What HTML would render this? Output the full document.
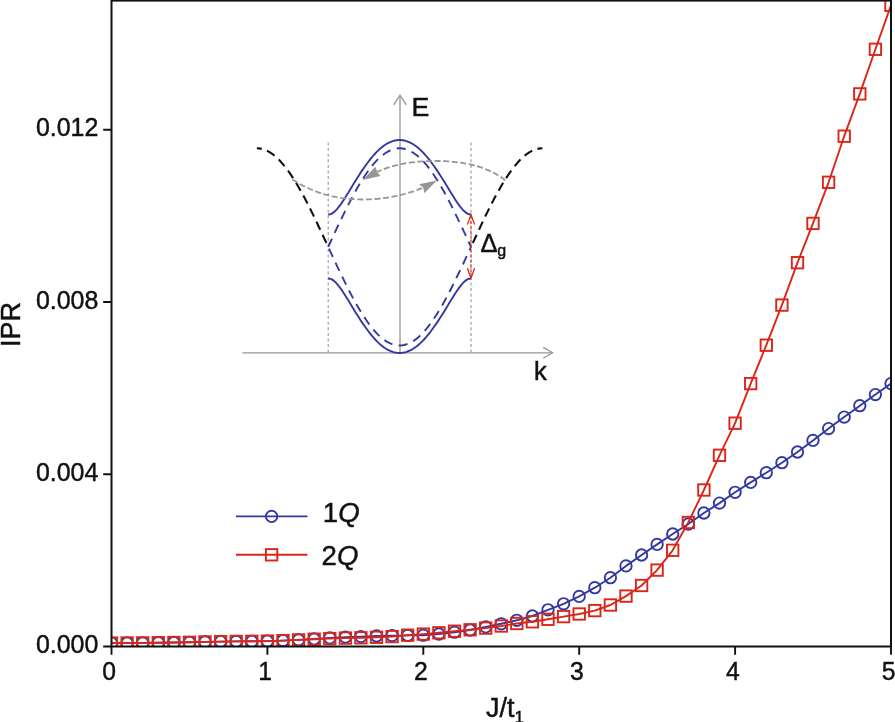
<!DOCTYPE html>
<html lang="en"><head><meta charset="utf-8"><title>IPR vs J/t1</title>
<style>
html,body{margin:0;padding:0;background:#fff;}
body{width:895px;height:722px;overflow:hidden;}
svg{display:block;}
text{font-family:"Liberation Sans",Arial,Helvetica,sans-serif;fill:#111;stroke:#111;stroke-width:0.45px;}
</style></head><body>
<svg width="895" height="722" viewBox="0 0 895 722">
<rect width="895" height="722" fill="#fff"/>
<defs><clipPath id="plot"><rect x="111.5" y="0.6" width="779.5" height="645.9"/></clipPath></defs>
<g fill="none" stroke-linecap="butt">
<path d="M242.4 352.8H552" stroke="#969696" stroke-width="1.3"/>
<path d="M543.2 347.4L552.6 352.8L543.2 358.2" stroke="#969696" stroke-width="1.3"/>
<path d="M400 353V96" stroke="#969696" stroke-width="1.3"/>
<path d="M393.8 104.8L400 95.2L406.2 104.8" stroke="#969696" stroke-width="1.3"/>
<path d="M328.2 142.5V352.5M471.0 142.5V352.5" stroke="#999" stroke-width="1.1" stroke-dasharray="3 2.6"/>
<polyline points="256.8,148.3 258.6,148.4 260.5,148.6 262.3,149.0 264.1,149.6 266.0,150.3 267.8,151.2 269.6,152.2 271.4,153.4 273.3,154.7 275.1,156.2 276.9,157.8 278.8,159.6 280.6,161.5 282.4,163.6 284.3,165.8 286.1,168.1 287.9,170.5 289.8,173.1 291.6,175.8 293.4,178.6 295.2,181.5 297.1,184.5 298.9,187.7 300.7,190.9 302.6,194.2 304.4,197.6 306.2,201.1 308.1,204.6 309.9,208.3 311.7,211.9 313.6,215.7 315.4,219.5 317.2,223.3 319.0,227.2 320.9,231.1 322.7,235.0 324.5,239.0 326.4,242.9 328.2,246.9" stroke="#111" stroke-width="2.1" stroke-dasharray="9 5.6" stroke-dashoffset="4"/>
<polyline points="542.4,148.3 540.6,148.4 538.7,148.6 536.9,149.0 535.1,149.6 533.2,150.3 531.4,151.2 529.6,152.2 527.8,153.4 525.9,154.7 524.1,156.2 522.3,157.8 520.4,159.6 518.6,161.5 516.8,163.6 514.9,165.8 513.1,168.1 511.3,170.5 509.4,173.1 507.6,175.8 505.8,178.6 504.0,181.5 502.1,184.5 500.3,187.7 498.5,190.9 496.6,194.2 494.8,197.6 493.0,201.1 491.1,204.6 489.3,208.3 487.5,211.9 485.6,215.7 483.8,219.5 482.0,223.3 480.2,227.2 478.3,231.1 476.5,235.0 474.7,239.0 472.8,242.9 471.0,246.9" stroke="#111" stroke-width="2.1" stroke-dasharray="9 5.6" stroke-dashoffset="4"/>
<polyline points="328.2,246.9 330.0,250.8 331.8,254.7 333.6,258.6 335.4,262.5 337.2,266.4 339.0,270.2 340.9,274.0 342.7,277.7 344.5,281.4 346.3,285.1 348.1,288.7 349.9,292.2 351.7,295.6 353.5,299.0 355.3,302.3 357.1,305.5 358.9,308.6 360.7,311.6 362.5,314.5 364.4,317.3 366.2,320.0 368.0,322.6 369.8,325.0 371.6,327.4 373.4,329.6 375.2,331.6 377.0,333.6 378.8,335.4 380.6,337.0 382.4,338.5 384.2,339.9 386.0,341.1 387.9,342.2 389.7,343.2 391.5,343.9 393.3,344.5 395.1,345.0 396.9,345.3 398.7,345.5 400.5,345.5 402.3,345.3 404.1,345.0 405.9,344.5 407.7,343.9 409.5,343.2 411.3,342.2 413.2,341.1 415.0,339.9 416.8,338.5 418.6,337.0 420.4,335.4 422.2,333.6 424.0,331.6 425.8,329.6 427.6,327.4 429.4,325.0 431.2,322.6 433.0,320.0 434.8,317.3 436.7,314.5 438.5,311.6 440.3,308.6 442.1,305.5 443.9,302.3 445.7,299.0 447.5,295.6 449.3,292.2 451.1,288.7 452.9,285.1 454.7,281.4 456.5,277.7 458.3,274.0 460.2,270.2 462.0,266.4 463.8,262.5 465.6,258.6 467.4,254.7 469.2,250.8 471.0,246.9" stroke="#3438a1" stroke-width="1.9" stroke-dasharray="9 6.4" stroke-dashoffset="13.4"/>
<polyline points="328.2,246.9 330.0,243.0 331.8,239.1 333.6,235.2 335.4,231.3 337.2,227.4 339.0,223.6 340.9,219.8 342.7,216.1 344.5,212.4 346.3,208.7 348.1,205.1 349.9,201.6 351.7,198.2 353.5,194.8 355.3,191.5 357.1,188.3 358.9,185.2 360.7,182.2 362.5,179.3 364.4,176.5 366.2,173.8 368.0,171.2 369.8,168.8 371.6,166.4 373.4,164.2 375.2,162.2 377.0,160.2 378.8,158.4 380.6,156.8 382.4,155.3 384.2,153.9 386.0,152.7 387.9,151.6 389.7,150.6 391.5,149.9 393.3,149.3 395.1,148.8 396.9,148.5 398.7,148.3 400.5,148.3 402.3,148.5 404.1,148.8 405.9,149.3 407.7,149.9 409.5,150.6 411.3,151.6 413.2,152.7 415.0,153.9 416.8,155.3 418.6,156.8 420.4,158.4 422.2,160.2 424.0,162.2 425.8,164.2 427.6,166.4 429.4,168.8 431.2,171.2 433.0,173.8 434.8,176.5 436.7,179.3 438.5,182.2 440.3,185.2 442.1,188.3 443.9,191.5 445.7,194.8 447.5,198.2 449.3,201.6 451.1,205.1 452.9,208.7 454.7,212.4 456.5,216.1 458.3,219.8 460.2,223.6 462.0,227.4 463.8,231.3 465.6,235.2 467.4,239.1 469.2,243.0 471.0,246.9" stroke="#3438a1" stroke-width="1.9" stroke-dasharray="9 6.4"/>
<polyline points="328.2,214.6 330.0,214.3 331.8,213.6 333.6,212.4 335.4,210.8 337.2,208.8 339.0,206.6 340.9,204.1 342.7,201.5 344.5,198.7 346.3,195.8 348.1,192.9 349.9,190.0 351.7,187.0 353.5,184.1 355.3,181.1 357.1,178.2 358.9,175.4 360.7,172.6 362.5,169.9 364.4,167.2 366.2,164.7 368.0,162.3 369.8,159.9 371.6,157.7 373.4,155.5 375.2,153.5 377.0,151.7 378.8,149.9 380.6,148.3 382.4,146.8 384.2,145.5 386.0,144.3 387.9,143.2 389.7,142.3 391.5,141.6 393.3,140.9 395.1,140.5 396.9,140.2 398.7,140.0 400.5,140.0 402.3,140.2 404.1,140.5 405.9,140.9 407.7,141.6 409.5,142.3 411.3,143.2 413.2,144.3 415.0,145.5 416.8,146.8 418.6,148.3 420.4,149.9 422.2,151.7 424.0,153.5 425.8,155.5 427.6,157.7 429.4,159.9 431.2,162.3 433.0,164.7 434.8,167.2 436.7,169.9 438.5,172.6 440.3,175.4 442.1,178.2 443.9,181.1 445.7,184.1 447.5,187.0 449.3,190.0 451.1,192.9 452.9,195.8 454.7,198.7 456.5,201.5 458.3,204.1 460.2,206.6 462.0,208.8 463.8,210.8 465.6,212.4 467.4,213.6 469.2,214.3 471.0,214.6" stroke="#3438a1" stroke-width="1.9"/>
<polyline points="328.2,278.4 330.0,278.7 331.8,279.4 333.6,280.6 335.4,282.2 337.2,284.2 339.0,286.4 340.9,288.9 342.7,291.5 344.5,294.3 346.3,297.2 348.1,300.1 349.9,303.0 351.7,306.0 353.5,308.9 355.3,311.9 357.1,314.8 358.9,317.6 360.7,320.4 362.5,323.1 364.4,325.8 366.2,328.3 368.0,330.7 369.8,333.1 371.6,335.3 373.4,337.5 375.2,339.5 377.0,341.3 378.8,343.1 380.6,344.7 382.4,346.2 384.2,347.5 386.0,348.7 387.9,349.8 389.7,350.7 391.5,351.4 393.3,352.1 395.1,352.5 396.9,352.8 398.7,353.0 400.5,353.0 402.3,352.8 404.1,352.5 405.9,352.1 407.7,351.4 409.5,350.7 411.3,349.8 413.2,348.7 415.0,347.5 416.8,346.2 418.6,344.7 420.4,343.1 422.2,341.3 424.0,339.5 425.8,337.5 427.6,335.3 429.4,333.1 431.2,330.7 433.0,328.3 434.8,325.8 436.7,323.1 438.5,320.4 440.3,317.6 442.1,314.8 443.9,311.9 445.7,308.9 447.5,306.0 449.3,303.0 451.1,300.1 452.9,297.2 454.7,294.3 456.5,291.5 458.3,288.9 460.2,286.4 462.0,284.2 463.8,282.2 465.6,280.6 467.4,279.4 469.2,278.7 471.0,278.4" stroke="#3438a1" stroke-width="1.9"/>
<polyline points="292.4,179.4 295.1,181.1 297.7,182.7 300.4,184.3 303.1,185.7 305.8,187.0 308.4,188.3 311.1,189.5 313.8,190.6 316.4,191.6 319.1,192.6 321.8,193.4 324.5,194.3 327.1,195.0 329.8,195.7 332.5,196.3 335.1,196.8 337.8,197.3 340.5,197.8 343.2,198.2 345.8,198.5 348.5,198.8 351.2,199.0 353.8,199.2 356.5,199.3 359.2,199.4 361.9,199.5 364.5,199.5 367.2,199.4 369.9,199.3 372.5,199.2 375.2,199.0 377.9,198.8 380.6,198.5 383.2,198.2 385.9,197.8 388.6,197.4 391.2,196.9 393.9,196.4 396.6,195.9 399.3,195.3 401.9,194.7 404.6,194.0 407.3,193.2 409.9,192.4 412.6,191.6 415.3,190.7 418.0,189.7 420.6,188.7 423.3,187.6" stroke="#969696" stroke-width="1.8" stroke-dasharray="6 2.6"/>
<polyline points="505.4,180.3 502.8,178.4 500.2,176.6 497.6,175.0 495.0,173.5 492.3,172.2 489.7,170.9 487.1,169.8 484.5,168.7 481.9,167.7 479.3,166.9 476.7,166.1 474.1,165.4 471.4,164.7 468.8,164.1 466.2,163.6 463.6,163.2 461.0,162.7 458.4,162.4 455.8,162.1 453.2,161.8 450.5,161.6 447.9,161.4 445.3,161.2 442.7,161.1 440.1,161.0 437.5,161.0 434.9,161.0 432.3,161.0 429.6,161.1 427.0,161.2 424.4,161.3 421.8,161.4 419.2,161.6 416.6,161.8 414.0,162.1 411.4,162.4 408.7,162.8 406.1,163.2 403.5,163.6 400.9,164.2 398.3,164.7 395.7,165.4 393.1,166.0 390.5,166.8 387.8,167.7 385.2,168.6 382.6,169.6 380.0,170.7 377.4,171.9" stroke="#969696" stroke-width="1.8" stroke-dasharray="6 2.6"/>
</g>
<path d="M436.8 180.5L419.2 184.3L423.1 187.3L424.4 193.2Z" fill="#969696"/>
<path d="M362.6 179.9L375.4 166.7L377.4 172.3L380.4 176.1Z" fill="#969696"/>
<g fill="none" stroke="#da2518">
<path d="M471.0 216V277" stroke-width="1" stroke-dasharray="3.2 1.6"/>
<path d="M467.4 224.6L471.0 214.6L474.6 224.6" stroke-width="1.3"/>
<path d="M467.4 268.2L471.0 278.2L474.6 268.2" stroke-width="1.3"/>
</g>
<text x="411.6" y="115.5" font-size="26.7">E</text>
<text x="533.9" y="380.2" font-size="25.5">k</text>
<text x="480.6" y="251.7" font-size="25.5">Δ</text>
<text x="497.2" y="256.4" font-size="16">g</text>
<g clip-path="url(#plot)" fill="none">
<polyline points="111.5,643.1 127.1,643.0 142.7,642.9 158.3,642.7 173.9,642.5 189.4,642.3 205.0,641.9 220.6,641.6 236.2,641.4 251.8,641.3 267.4,641.1 283.0,640.6 298.6,639.9 314.2,639.0 329.8,637.9 345.4,637.1 360.9,636.6 376.5,636.0 392.1,635.6 407.7,635.4 423.3,635.2 438.9,634.0 454.5,632.2 470.1,630.0 485.7,626.9 501.2,623.8 516.8,620.3 532.4,616.0 548.0,609.8 563.6,603.8 579.2,596.4 594.8,587.7 610.4,577.7 626.0,565.9 641.6,555.0 657.1,544.4 672.7,534.0 688.3,524.0 703.9,513.0 719.5,503.1 735.1,492.3 750.7,482.4 766.3,472.7 781.9,462.7 797.5,452.0 813.0,440.4 828.6,428.6 844.2,417.1 859.8,405.7 875.4,394.6 891.0,383.6" stroke="#3438a1" stroke-width="1.9" stroke-linejoin="round"/>
<circle cx="111.5" cy="643.1" r="5.7" stroke="#3438a1" stroke-width="1.9"/>
<circle cx="127.1" cy="643.0" r="5.7" stroke="#3438a1" stroke-width="1.9"/>
<circle cx="142.7" cy="642.9" r="5.7" stroke="#3438a1" stroke-width="1.9"/>
<circle cx="158.3" cy="642.7" r="5.7" stroke="#3438a1" stroke-width="1.9"/>
<circle cx="173.9" cy="642.5" r="5.7" stroke="#3438a1" stroke-width="1.9"/>
<circle cx="189.4" cy="642.3" r="5.7" stroke="#3438a1" stroke-width="1.9"/>
<circle cx="205.0" cy="641.9" r="5.7" stroke="#3438a1" stroke-width="1.9"/>
<circle cx="220.6" cy="641.6" r="5.7" stroke="#3438a1" stroke-width="1.9"/>
<circle cx="236.2" cy="641.4" r="5.7" stroke="#3438a1" stroke-width="1.9"/>
<circle cx="251.8" cy="641.3" r="5.7" stroke="#3438a1" stroke-width="1.9"/>
<circle cx="267.4" cy="641.1" r="5.7" stroke="#3438a1" stroke-width="1.9"/>
<circle cx="283.0" cy="640.6" r="5.7" stroke="#3438a1" stroke-width="1.9"/>
<circle cx="298.6" cy="639.9" r="5.7" stroke="#3438a1" stroke-width="1.9"/>
<circle cx="314.2" cy="639.0" r="5.7" stroke="#3438a1" stroke-width="1.9"/>
<circle cx="329.8" cy="637.9" r="5.7" stroke="#3438a1" stroke-width="1.9"/>
<circle cx="345.4" cy="637.1" r="5.7" stroke="#3438a1" stroke-width="1.9"/>
<circle cx="360.9" cy="636.6" r="5.7" stroke="#3438a1" stroke-width="1.9"/>
<circle cx="376.5" cy="636.0" r="5.7" stroke="#3438a1" stroke-width="1.9"/>
<circle cx="392.1" cy="635.6" r="5.7" stroke="#3438a1" stroke-width="1.9"/>
<circle cx="407.7" cy="635.4" r="5.7" stroke="#3438a1" stroke-width="1.9"/>
<circle cx="423.3" cy="635.2" r="5.7" stroke="#3438a1" stroke-width="1.9"/>
<circle cx="438.9" cy="634.0" r="5.7" stroke="#3438a1" stroke-width="1.9"/>
<circle cx="454.5" cy="632.2" r="5.7" stroke="#3438a1" stroke-width="1.9"/>
<circle cx="470.1" cy="630.0" r="5.7" stroke="#3438a1" stroke-width="1.9"/>
<circle cx="485.7" cy="626.9" r="5.7" stroke="#3438a1" stroke-width="1.9"/>
<circle cx="501.2" cy="623.8" r="5.7" stroke="#3438a1" stroke-width="1.9"/>
<circle cx="516.8" cy="620.3" r="5.7" stroke="#3438a1" stroke-width="1.9"/>
<circle cx="532.4" cy="616.0" r="5.7" stroke="#3438a1" stroke-width="1.9"/>
<circle cx="548.0" cy="609.8" r="5.7" stroke="#3438a1" stroke-width="1.9"/>
<circle cx="563.6" cy="603.8" r="5.7" stroke="#3438a1" stroke-width="1.9"/>
<circle cx="579.2" cy="596.4" r="5.7" stroke="#3438a1" stroke-width="1.9"/>
<circle cx="594.8" cy="587.7" r="5.7" stroke="#3438a1" stroke-width="1.9"/>
<circle cx="610.4" cy="577.7" r="5.7" stroke="#3438a1" stroke-width="1.9"/>
<circle cx="626.0" cy="565.9" r="5.7" stroke="#3438a1" stroke-width="1.9"/>
<circle cx="641.6" cy="555.0" r="5.7" stroke="#3438a1" stroke-width="1.9"/>
<circle cx="657.1" cy="544.4" r="5.7" stroke="#3438a1" stroke-width="1.9"/>
<circle cx="672.7" cy="534.0" r="5.7" stroke="#3438a1" stroke-width="1.9"/>
<circle cx="688.3" cy="524.0" r="5.7" stroke="#3438a1" stroke-width="1.9"/>
<circle cx="703.9" cy="513.0" r="5.7" stroke="#3438a1" stroke-width="1.9"/>
<circle cx="719.5" cy="503.1" r="5.7" stroke="#3438a1" stroke-width="1.9"/>
<circle cx="735.1" cy="492.3" r="5.7" stroke="#3438a1" stroke-width="1.9"/>
<circle cx="750.7" cy="482.4" r="5.7" stroke="#3438a1" stroke-width="1.9"/>
<circle cx="766.3" cy="472.7" r="5.7" stroke="#3438a1" stroke-width="1.9"/>
<circle cx="781.9" cy="462.7" r="5.7" stroke="#3438a1" stroke-width="1.9"/>
<circle cx="797.5" cy="452.0" r="5.7" stroke="#3438a1" stroke-width="1.9"/>
<circle cx="813.0" cy="440.4" r="5.7" stroke="#3438a1" stroke-width="1.9"/>
<circle cx="828.6" cy="428.6" r="5.7" stroke="#3438a1" stroke-width="1.9"/>
<circle cx="844.2" cy="417.1" r="5.7" stroke="#3438a1" stroke-width="1.9"/>
<circle cx="859.8" cy="405.7" r="5.7" stroke="#3438a1" stroke-width="1.9"/>
<circle cx="875.4" cy="394.6" r="5.7" stroke="#3438a1" stroke-width="1.9"/>
<circle cx="891.0" cy="383.6" r="5.7" stroke="#3438a1" stroke-width="1.9"/>
<polyline points="111.5,643.1 127.1,643.0 142.7,642.9 158.3,642.7 173.9,642.5 189.4,642.3 205.0,641.9 220.6,641.6 236.2,641.4 251.8,641.3 267.4,641.1 283.0,640.6 298.6,639.9 314.2,639.2 329.8,638.6 345.4,638.1 360.9,637.8 376.5,637.3 392.1,636.6 407.7,635.2 423.3,634.1 438.9,632.8 454.5,631.2 470.1,629.8 485.7,628.1 501.2,626.0 516.8,623.5 532.4,621.8 548.0,619.3 563.6,616.6 579.2,614.0 594.8,610.6 610.4,605.0 626.0,596.1 641.6,585.5 657.1,570.1 672.7,550.3 688.3,522.5 703.9,490.0 719.5,455.3 735.1,423.2 750.7,383.6 766.3,345.2 781.9,305.1 797.5,262.7 813.0,223.4 828.6,182.3 844.2,136.2 859.8,93.9 875.4,49.3 891.0,5.3" stroke="#da2518" stroke-width="1.9" stroke-linejoin="round"/>
<rect x="105.8" y="637.4" width="11.4" height="11.4" stroke="#da2518" stroke-width="1.9"/>
<rect x="121.4" y="637.3" width="11.4" height="11.4" stroke="#da2518" stroke-width="1.9"/>
<rect x="137.0" y="637.2" width="11.4" height="11.4" stroke="#da2518" stroke-width="1.9"/>
<rect x="152.6" y="637.0" width="11.4" height="11.4" stroke="#da2518" stroke-width="1.9"/>
<rect x="168.2" y="636.8" width="11.4" height="11.4" stroke="#da2518" stroke-width="1.9"/>
<rect x="183.8" y="636.6" width="11.4" height="11.4" stroke="#da2518" stroke-width="1.9"/>
<rect x="199.3" y="636.2" width="11.4" height="11.4" stroke="#da2518" stroke-width="1.9"/>
<rect x="214.9" y="635.9" width="11.4" height="11.4" stroke="#da2518" stroke-width="1.9"/>
<rect x="230.5" y="635.7" width="11.4" height="11.4" stroke="#da2518" stroke-width="1.9"/>
<rect x="246.1" y="635.6" width="11.4" height="11.4" stroke="#da2518" stroke-width="1.9"/>
<rect x="261.7" y="635.4" width="11.4" height="11.4" stroke="#da2518" stroke-width="1.9"/>
<rect x="277.3" y="634.9" width="11.4" height="11.4" stroke="#da2518" stroke-width="1.9"/>
<rect x="292.9" y="634.2" width="11.4" height="11.4" stroke="#da2518" stroke-width="1.9"/>
<rect x="308.5" y="633.5" width="11.4" height="11.4" stroke="#da2518" stroke-width="1.9"/>
<rect x="324.1" y="632.9" width="11.4" height="11.4" stroke="#da2518" stroke-width="1.9"/>
<rect x="339.7" y="632.4" width="11.4" height="11.4" stroke="#da2518" stroke-width="1.9"/>
<rect x="355.2" y="632.1" width="11.4" height="11.4" stroke="#da2518" stroke-width="1.9"/>
<rect x="370.8" y="631.6" width="11.4" height="11.4" stroke="#da2518" stroke-width="1.9"/>
<rect x="386.4" y="630.9" width="11.4" height="11.4" stroke="#da2518" stroke-width="1.9"/>
<rect x="402.0" y="629.5" width="11.4" height="11.4" stroke="#da2518" stroke-width="1.9"/>
<rect x="417.6" y="628.4" width="11.4" height="11.4" stroke="#da2518" stroke-width="1.9"/>
<rect x="433.2" y="627.1" width="11.4" height="11.4" stroke="#da2518" stroke-width="1.9"/>
<rect x="448.8" y="625.5" width="11.4" height="11.4" stroke="#da2518" stroke-width="1.9"/>
<rect x="464.4" y="624.1" width="11.4" height="11.4" stroke="#da2518" stroke-width="1.9"/>
<rect x="480.0" y="622.4" width="11.4" height="11.4" stroke="#da2518" stroke-width="1.9"/>
<rect x="495.6" y="620.3" width="11.4" height="11.4" stroke="#da2518" stroke-width="1.9"/>
<rect x="511.1" y="617.8" width="11.4" height="11.4" stroke="#da2518" stroke-width="1.9"/>
<rect x="526.7" y="616.1" width="11.4" height="11.4" stroke="#da2518" stroke-width="1.9"/>
<rect x="542.3" y="613.6" width="11.4" height="11.4" stroke="#da2518" stroke-width="1.9"/>
<rect x="557.9" y="610.9" width="11.4" height="11.4" stroke="#da2518" stroke-width="1.9"/>
<rect x="573.5" y="608.3" width="11.4" height="11.4" stroke="#da2518" stroke-width="1.9"/>
<rect x="589.1" y="604.9" width="11.4" height="11.4" stroke="#da2518" stroke-width="1.9"/>
<rect x="604.7" y="599.3" width="11.4" height="11.4" stroke="#da2518" stroke-width="1.9"/>
<rect x="620.3" y="590.4" width="11.4" height="11.4" stroke="#da2518" stroke-width="1.9"/>
<rect x="635.9" y="579.8" width="11.4" height="11.4" stroke="#da2518" stroke-width="1.9"/>
<rect x="651.4" y="564.4" width="11.4" height="11.4" stroke="#da2518" stroke-width="1.9"/>
<rect x="667.0" y="544.6" width="11.4" height="11.4" stroke="#da2518" stroke-width="1.9"/>
<rect x="682.6" y="516.8" width="11.4" height="11.4" stroke="#da2518" stroke-width="1.9"/>
<rect x="698.2" y="484.3" width="11.4" height="11.4" stroke="#da2518" stroke-width="1.9"/>
<rect x="713.8" y="449.6" width="11.4" height="11.4" stroke="#da2518" stroke-width="1.9"/>
<rect x="729.4" y="417.5" width="11.4" height="11.4" stroke="#da2518" stroke-width="1.9"/>
<rect x="745.0" y="377.9" width="11.4" height="11.4" stroke="#da2518" stroke-width="1.9"/>
<rect x="760.6" y="339.5" width="11.4" height="11.4" stroke="#da2518" stroke-width="1.9"/>
<rect x="776.2" y="299.4" width="11.4" height="11.4" stroke="#da2518" stroke-width="1.9"/>
<rect x="791.8" y="257.0" width="11.4" height="11.4" stroke="#da2518" stroke-width="1.9"/>
<rect x="807.3" y="217.7" width="11.4" height="11.4" stroke="#da2518" stroke-width="1.9"/>
<rect x="822.9" y="176.6" width="11.4" height="11.4" stroke="#da2518" stroke-width="1.9"/>
<rect x="838.5" y="130.5" width="11.4" height="11.4" stroke="#da2518" stroke-width="1.9"/>
<rect x="854.1" y="88.2" width="11.4" height="11.4" stroke="#da2518" stroke-width="1.9"/>
<rect x="869.7" y="43.6" width="11.4" height="11.4" stroke="#da2518" stroke-width="1.9"/>
<rect x="885.3" y="-0.4" width="11.4" height="11.4" stroke="#da2518" stroke-width="1.9"/>
</g>
<g fill="none" stroke="#111">
<rect x="111.5" y="0.6" width="779.5" height="645.9" stroke-width="2"/>
<path d="M111.5 646.5V654.8M267.4 646.5V654.8M423.3 646.5V654.8M579.2 646.5V654.8M735.1 646.5V654.8M891.0 646.5V654.8M111.5 646.5H103.2M111.5 474.2H103.2M111.5 302.0H103.2M111.5 129.8H103.2" stroke-width="1.9"/>
</g>
<text transform="translate(109.2,680) scale(0.97,1)" font-size="25.5" text-anchor="middle">0</text>
<text transform="translate(265.1,680) scale(0.97,1)" font-size="25.5" text-anchor="middle">1</text>
<text transform="translate(421.0,680) scale(0.97,1)" font-size="25.5" text-anchor="middle">2</text>
<text transform="translate(576.9,680) scale(0.97,1)" font-size="25.5" text-anchor="middle">3</text>
<text transform="translate(732.8,680) scale(0.97,1)" font-size="25.5" text-anchor="middle">4</text>
<text transform="translate(888.7,680) scale(0.97,1)" font-size="25.5" text-anchor="middle">5</text>
<text transform="translate(98.3,653.2) scale(0.978,1)" font-size="25.5" text-anchor="end">0.000</text>
<text transform="translate(98.3,480.9) scale(0.978,1)" font-size="25.5" text-anchor="end">0.004</text>
<text transform="translate(98.3,308.7) scale(0.978,1)" font-size="25.5" text-anchor="end">0.008</text>
<text transform="translate(98.3,136.4) scale(0.978,1)" font-size="25.5" text-anchor="end">0.012</text>
<text transform="translate(20,347) rotate(-90)" font-size="27">IPR</text>
<text x="486" y="717" font-size="27">J/t<tspan font-size="17" dy="6">1</tspan></text>
<g fill="none">
<path d="M236 516.4H307.4" stroke="#3438a1" stroke-width="1.9"/>
<circle cx="271.6" cy="516.4" r="5.7" stroke="#3438a1" stroke-width="1.9"/>
<path d="M236 554.8H307.4" stroke="#da2518" stroke-width="1.9"/>
<rect x="265.9" y="549.1" width="11.4" height="11.4" stroke="#da2518" stroke-width="1.9"/>
</g>
<text x="322.8" y="521.5" font-size="27.6">1<tspan font-style="italic">Q</tspan></text>
<text x="321.6" y="564.5" font-size="27.6">2<tspan font-style="italic">Q</tspan></text>
</svg></body></html>
